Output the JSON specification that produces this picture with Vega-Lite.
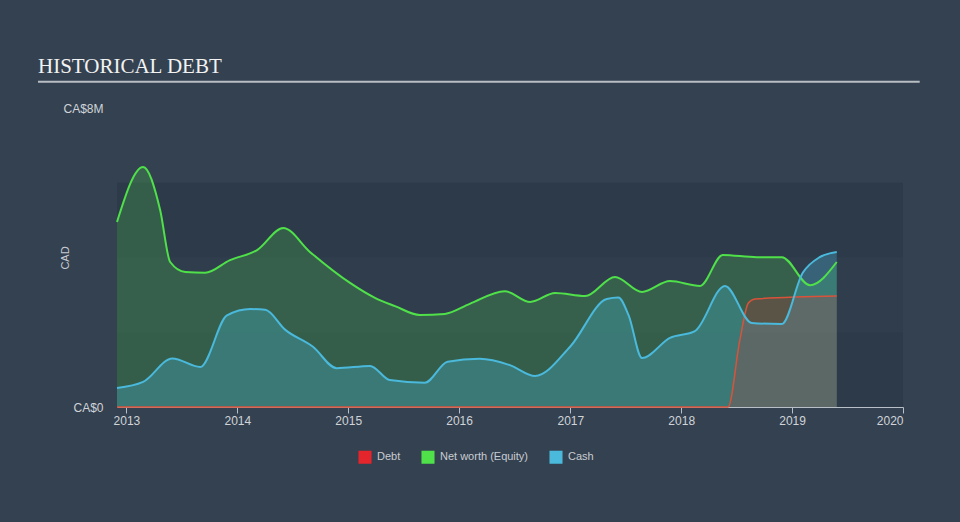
{
  "$schema": "https://vega.github.io/schema/vega-lite/v6.json",
  "width": 786,
  "height": 299,
  "autosize": {"type": "none"},
  "padding": {"left": 117, "top": 108, "right": 57, "bottom": 115},
  "background": "#344150",
  "title": {"text": "HISTORICAL DEBT", "anchor": "start", "frame": "group", "font": "Liberation Serif", "fontSize": 21, "fontWeight": "normal", "color": "#f2f2f2", "dx": -79, "offset": 4},
  "config": {
    "view": {"stroke": null},
    "axis": {"labelFont": "Liberation Sans", "titleFont": "Liberation Sans", "labelColor": "#d0d4d9", "titleColor": "#c8ccd2"}
  },
  "data": {"values": [
    {"date": "2012-12-01", "series": "Net worth (Equity)", "value": 4.95},
    {"date": "2013-02-25", "series": "Net worth (Equity)", "value": 6.42},
    {"date": "2013-04-22", "series": "Net worth (Equity)", "value": 5.27},
    {"date": "2013-05-25", "series": "Net worth (Equity)", "value": 3.88},
    {"date": "2013-07-14", "series": "Net worth (Equity)", "value": 3.61},
    {"date": "2013-09-17", "series": "Net worth (Equity)", "value": 3.59},
    {"date": "2013-12-08", "series": "Net worth (Equity)", "value": 3.93},
    {"date": "2014-03-07", "series": "Net worth (Equity)", "value": 4.2},
    {"date": "2014-06-01", "series": "Net worth (Equity)", "value": 4.79},
    {"date": "2014-08-28", "series": "Net worth (Equity)", "value": 4.15},
    {"date": "2015-01-07", "series": "Net worth (Equity)", "value": 3.32},
    {"date": "2015-03-30", "series": "Net worth (Equity)", "value": 2.92},
    {"date": "2015-06-04", "series": "Net worth (Equity)", "value": 2.7},
    {"date": "2015-08-25", "series": "Net worth (Equity)", "value": 2.46},
    {"date": "2015-11-15", "series": "Net worth (Equity)", "value": 2.49},
    {"date": "2016-02-05", "series": "Net worth (Equity)", "value": 2.76},
    {"date": "2016-05-30", "series": "Net worth (Equity)", "value": 3.1},
    {"date": "2016-08-22", "series": "Net worth (Equity)", "value": 2.81},
    {"date": "2016-11-12", "series": "Net worth (Equity)", "value": 3.05},
    {"date": "2017-02-19", "series": "Net worth (Equity)", "value": 2.97},
    {"date": "2017-05-28", "series": "Net worth (Equity)", "value": 3.48},
    {"date": "2017-08-25", "series": "Net worth (Equity)", "value": 3.08},
    {"date": "2017-11-25", "series": "Net worth (Equity)", "value": 3.37},
    {"date": "2018-03-04", "series": "Net worth (Equity)", "value": 3.24},
    {"date": "2018-05-18", "series": "Net worth (Equity)", "value": 4.07},
    {"date": "2018-09-07", "series": "Net worth (Equity)", "value": 4.01},
    {"date": "2018-11-28", "series": "Net worth (Equity)", "value": 4.01},
    {"date": "2019-03-01", "series": "Net worth (Equity)", "value": 3.26},
    {"date": "2019-05-28", "series": "Net worth (Equity)", "value": 3.88},
    {"date": "2012-12-01", "series": "Cash", "value": 0.51},
    {"date": "2013-02-25", "series": "Cash", "value": 0.67},
    {"date": "2013-06-01", "series": "Cash", "value": 1.3},
    {"date": "2013-09-01", "series": "Cash", "value": 1.07},
    {"date": "2013-11-28", "series": "Cash", "value": 2.45},
    {"date": "2014-02-13", "series": "Cash", "value": 2.62},
    {"date": "2014-04-03", "series": "Cash", "value": 2.6},
    {"date": "2014-06-07", "series": "Cash", "value": 2.07},
    {"date": "2014-09-07", "series": "Cash", "value": 1.61},
    {"date": "2014-11-24", "series": "Cash", "value": 1.04},
    {"date": "2015-03-14", "series": "Cash", "value": 1.1},
    {"date": "2015-05-18", "series": "Cash", "value": 0.72},
    {"date": "2015-09-10", "series": "Cash", "value": 0.65},
    {"date": "2015-11-24", "series": "Cash", "value": 1.21},
    {"date": "2016-03-09", "series": "Cash", "value": 1.29},
    {"date": "2016-06-16", "series": "Cash", "value": 1.12},
    {"date": "2016-09-07", "series": "Cash", "value": 0.83},
    {"date": "2017-01-01", "series": "Cash", "value": 1.62},
    {"date": "2017-05-01", "series": "Cash", "value": 2.89},
    {"date": "2017-06-08", "series": "Cash", "value": 2.93},
    {"date": "2017-07-12", "series": "Cash", "value": 2.45},
    {"date": "2017-08-25", "series": "Cash", "value": 1.31},
    {"date": "2017-11-25", "series": "Cash", "value": 1.85},
    {"date": "2018-02-15", "series": "Cash", "value": 2.03},
    {"date": "2018-05-25", "series": "Cash", "value": 3.24},
    {"date": "2018-08-21", "series": "Cash", "value": 2.25},
    {"date": "2018-11-28", "series": "Cash", "value": 2.22},
    {"date": "2019-02-05", "series": "Cash", "value": 3.59},
    {"date": "2019-04-02", "series": "Cash", "value": 4.01},
    {"date": "2019-05-28", "series": "Cash", "value": 4.15},
    {"date": "2012-12-01", "series": "Debt", "value": 0},
    {"date": "2018-06-04", "series": "Debt", "value": 0},
    {"date": "2018-07-13", "series": "Debt", "value": 1.79},
    {"date": "2018-08-10", "series": "Debt", "value": 2.78},
    {"date": "2018-09-01", "series": "Debt", "value": 2.89},
    {"date": "2019-05-28", "series": "Debt", "value": 2.97}
  ]},
  "layer": [
    {
      "data": {"values": [{}]},
      "mark": {"type": "rect", "color": "#2d3a49"},
      "encoding": {
        "x": {"datum": {"year": 2012, "month": 12, "date": 1}, "type": "temporal",
          "scale": {"domain": [{"year": 2012, "month": 12, "date": 1}, {"year": 2020, "month": 1, "date": 1}], "nice": false},
          "axis": {"title": null, "values": [{"year": 2013}, {"year": 2014}, {"year": 2015}, {"year": 2016}, {"year": 2017}, {"year": 2018}, {"year": 2019}, {"year": 2020}], "format": "%Y", "labelFontSize": 12, "domainColor": "#b9bfc6", "tickColor": "#b9bfc6", "tickSize": 6, "labelPadding": 2, "grid": false}},
        "x2": {"datum": {"year": 2020, "month": 1, "date": 1}},
        "y": {"datum": 0, "type": "quantitative",
          "scale": {"domain": [0, 8], "nice": false},
          "axis": {"title": "CAD", "values": [0, 8], "labelExpr": "datum.value == 0 ? 'CA$0' : 'CA$' + datum.value + 'M'", "labelFontSize": 12, "domain": false, "ticks": false, "grid": false, "labelPadding": 14, "titleFontSize": 11, "titleFontWeight": "normal", "titleX": -52, "titleY": 149.5, "titleAngle": -90, "titleBaseline": "middle", "titleAlign": "center"}},
        "y2": {"datum": 2}
      }
    },
    {
      "data": {"values": [{}]},
      "mark": {"type": "rect", "color": "#303d4c"},
      "encoding": {
        "x": {"datum": {"year": 2012, "month": 12, "date": 1}, "type": "temporal"},
        "x2": {"datum": {"year": 2020, "month": 1, "date": 1}},
        "y": {"datum": 2, "type": "quantitative"},
        "y2": {"datum": 4}
      }
    },
    {
      "data": {"values": [{}]},
      "mark": {"type": "rect", "color": "#2d3a49"},
      "encoding": {
        "x": {"datum": {"year": 2012, "month": 12, "date": 1}, "type": "temporal"},
        "x2": {"datum": {"year": 2020, "month": 1, "date": 1}},
        "y": {"datum": 4, "type": "quantitative"},
        "y2": {"datum": 6}
      }
    },
    {
      "data": {"values": [{}]},
      "mark": {"type": "rule", "color": "#b9bec5", "strokeWidth": 2},
      "encoding": {
        "x": {"datum": {"year": 2012, "month": 3, "date": 16}, "type": "temporal"},
        "x2": {"datum": {"year": 2020, "month": 2, "date": 25}},
        "y": {"datum": 8.7, "type": "quantitative"}
      }
    },
    {
      "transform": [{"filter": "datum.series == 'Net worth (Equity)'"}],
      "mark": {"type": "area", "interpolate": "monotone", "fillOpacity": 0.22},
      "encoding": {
        "x": {"field": "date", "type": "temporal"},
        "y": {"field": "value", "type": "quantitative", "stack": null},
        "color": {"field": "series", "type": "nominal",
          "scale": {"domain": ["Debt", "Net worth (Equity)", "Cash"], "range": ["#e4262c", "#4fe04a", "#4ab9dc"]},
          "legend": {"orient": "none", "legendX": 241, "legendY": 342, "direction": "horizontal", "title": null, "symbolType": "square", "symbolSize": 170, "symbolOpacity": 1, "symbolStrokeWidth": 0, "labelColor": "#c8ccd2", "labelFont": "Liberation Sans", "labelFontSize": 11, "columnPadding": 20, "labelOffset": 5, "padding": 0}}
      }
    },
    {
      "transform": [{"filter": "datum.series == 'Cash'"}],
      "mark": {"type": "area", "interpolate": "monotone", "fillOpacity": 0.3},
      "encoding": {
        "x": {"field": "date", "type": "temporal"},
        "y": {"field": "value", "type": "quantitative", "stack": null},
        "color": {"field": "series", "type": "nominal"}
      }
    },
    {
      "transform": [{"filter": "datum.series == 'Debt'"}],
      "mark": {"type": "area", "interpolate": "monotone", "fillOpacity": 0.2},
      "encoding": {
        "x": {"field": "date", "type": "temporal"},
        "y": {"field": "value", "type": "quantitative", "stack": null},
        "color": {"field": "series", "type": "nominal"}
      }
    },
    {
      "transform": [{"filter": "datum.series == 'Debt'"}],
      "mark": {"type": "line", "interpolate": "monotone", "strokeWidth": 1.5, "color": "#d9533a"},
      "encoding": {
        "x": {"field": "date", "type": "temporal"},
        "y": {"field": "value", "type": "quantitative"}
      }
    },
    {
      "transform": [{"filter": "datum.series == 'Net worth (Equity)'"}],
      "mark": {"type": "line", "interpolate": "monotone", "strokeWidth": 2, "color": "#4fe04a"},
      "encoding": {
        "x": {"field": "date", "type": "temporal"},
        "y": {"field": "value", "type": "quantitative"}
      }
    },
    {
      "transform": [{"filter": "datum.series == 'Cash'"}],
      "mark": {"type": "line", "interpolate": "monotone", "strokeWidth": 2, "color": "#4ab9dc"},
      "encoding": {
        "x": {"field": "date", "type": "temporal"},
        "y": {"field": "value", "type": "quantitative"}
      }
    }
  ]
}
